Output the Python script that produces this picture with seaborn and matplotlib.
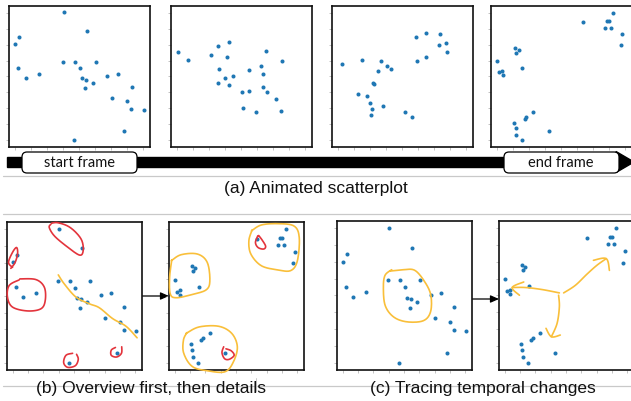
import numpy as np
import pandas as pd
import matplotlib
matplotlib.use("Agg")
import matplotlib.pyplot as plt
from matplotlib.patches import FancyBboxPatch, Rectangle, Polygon
import seaborn as sns

# ---------------- data ----------------
start_x = [3.04, 0.02, 0.29, 4.50, 0.23, 0.69, 1.54, 2.98, 3.75, 5.04, 4.04, 4.19,
           4.46, 4.38, 4.88, 5.75, 6.42, 7.29, 6.04, 6.98, 7.23, 8.04, 6.81, 3.67]
start_y = [8.03, 6.01, 6.45, 6.85, 4.52, 3.91, 4.18, 4.92, 4.92, 4.92, 4.50, 3.87,
           3.80, 3.26, 3.61, 4.03, 4.16, 3.34, 2.67, 2.44, 1.97, 1.89, 0.55, -0.02]

mid1_x = [0.10, 0.69, 2.13, 2.56, 3.27, 3.15, 2.65, 3.50, 3.00, 2.60, 3.25, 4.50,
          5.58, 5.23, 5.40, 6.56, 4.04, 4.50, 5.38, 5.60, 6.19, 6.48, 4.15, 4.94]
mid1_y = [5.53, 5.02, 5.32, 5.90, 6.16, 5.25, 4.47, 4.05, 3.87, 3.57, 3.47, 4.43,
          5.63, 4.68, 4.18, 4.96, 3.03, 3.07, 3.34, 3.00, 2.56, 1.85, 2.04, 1.79]

mid2_x = [0.27, 1.54, 1.29, 1.83, 1.98, 2.13, 2.06, 2.21, 2.23, 2.48, 2.71, 3.06,
          3.31, 2.83, 4.19, 4.60, 4.90, 5.50, 4.92, 5.52, 6.35, 6.33, 6.73, 6.81]
mid2_y = [4.81, 5.04, 2.92, 2.77, 2.31, 1.97, 1.58, 3.57, 3.51, 4.33, 5.00, 4.66,
          4.47, 2.12, 1.76, 1.43, 6.47, 6.74, 4.98, 5.25, 6.64, 5.99, 6.09, 5.53]

end_x = [7.27, 6.87, 6.97, 6.74, 7.14, 7.83, 7.72, 5.39, 1.11, 1.36, 1.22, 0.00,
         0.13, 0.34, 0.38, 1.60, 2.28, 1.83, 1.73, 1.07, 1.17, 1.19, 1.56, 3.26]
end_y = [8.00, 7.48, 7.46, 7.06, 7.06, 6.65, 5.95, 7.40, 5.79, 5.69, 5.50, 4.96,
         4.25, 4.33, 4.07, 4.56, 1.75, 1.45, 1.35, 1.09, 0.75, 0.32, 0.00, 0.56]

tick_values = [0, 1, 2, 3, 4, 5, 6, 7, 8]

caption_a = "(a) Animated scatterplot"
caption_b = "(b) Overview first, then details"
caption_c = "(c) Tracing temporal changes"
label_start = "start frame"
label_end = "end frame"

# ---------------- styling ----------------
sns.set_style("white")
plt.rcParams["font.family"] = ["Liberation Sans", "DejaVu Sans"]

W, H = 631, 401
DOT = "#1f77b4"
RED = "#e3343c"
YEL = "#f9bf3a"
GREY = "#c9c9c9"

fig = plt.figure(figsize=(W / 100, H / 100), dpi=100)

# overlay in pixel coordinates
ov = fig.add_axes([0, 0, 1, 1], zorder=0)
ov.set_xlim(0, W)
ov.set_ylim(H, 0)
ov.axis("off")
ov.patch.set_alpha(0)


def px_axes(left, top, width, height):
    return fig.add_axes([left / W, 1 - (top + height) / H, width / W, height / H], zorder=2)


def draw_panel(ax, xs, ys):
    df = pd.DataFrame({"x": xs, "y": ys})
    sns.scatterplot(data=df, x="x", y="y", ax=ax, color=DOT, s=8.5, linewidth=0,
                    legend=False, zorder=3)
    ax.set_xlim(-0.36, 8.43)
    ax.set_ylim(-0.44, 8.43)
    ax.set_xticks(tick_values)
    ax.set_yticks(tick_values)
    ax.set_xticklabels([])
    ax.set_yticklabels([])
    ax.set_xlabel("")
    ax.set_ylabel("")
    ax.tick_params(bottom=True, left=True, length=2, width=0.5, color="#aaaaaa",
                   direction="out")
    for sp in ax.spines.values():
        sp.set_visible(True)
        sp.set_color("#111111")
        sp.set_linewidth(1.2)
    ax.patch.set_facecolor("white")


def catmull(pts, n=14):
    P = np.asarray(pts, float)
    P = np.vstack([P[0], P, P[-1]])
    out = []
    for i in range(1, len(P) - 2):
        p0, p1, p2, p3 = P[i - 1], P[i], P[i + 1], P[i + 2]
        for t in np.linspace(0, 1, n, endpoint=False):
            t2, t3 = t * t, t * t * t
            out.append(0.5 * ((2 * p1) + (-p0 + p2) * t + (2 * p0 - 5 * p1 + 4 * p2 - p3) * t2
                              + (-p0 + 3 * p1 - 3 * p2 + p3) * t3))
    out.append(P[-2])
    return np.array(out)


def stroke(ax, pts, color, lw=1.2):
    c = catmull(pts)
    ax.plot(c[:, 0], c[:, 1], color=color, lw=lw, solid_capstyle="round",
            clip_on=False, zorder=4)


# ---------------- top row: animated scatterplot ----------------
top_frames = [(start_x, start_y, 9), (mid1_x, mid1_y, 171),
              (mid2_x, mid2_y, 332), (end_x, end_y, 491)]
for xs, ys, left in top_frames:
    ax = px_axes(left, 6, 141, 141)
    draw_panel(ax, xs, ys)

# timeline bar
ov.add_patch(Rectangle((7, 157), 612, 10, color="black", zorder=1))
ov.add_patch(Polygon([(616, 151.5), (634, 162), (616, 172.5)], closed=True,
                     color="black", zorder=1))
for (x0, x1, txt, tx) in [(22, 137, label_start, 79), (504, 619, label_end, 561)]:
    ov.add_patch(FancyBboxPatch((x0, 152), x1 - x0, 21,
                                boxstyle="round,pad=0,rounding_size=5",
                                facecolor="white", edgecolor="black", lw=0.9, zorder=2))
    ov.text(tx, 163, txt, ha="center", va="center", fontsize=10.5,
            family=["Lato", "DejaVu Sans"], color="#111111", zorder=3)

# separators
for yy in (176, 214, 386):
    ov.plot([3, W], [yy, yy], color=GREY, lw=0.9, zorder=0)
ov.plot([256, 256], [378, 391], color=GREY, lw=0.7, zorder=0)

ov.text(315.5, 193, caption_a, ha="center", va="baseline", fontsize=12.5, color="#111111")
ov.text(151.5, 393, caption_b, ha="center", va="baseline", fontsize=12.5, color="#111111",
        zorder=2)
ov.text(483, 393, caption_c, ha="center", va="baseline", fontsize=12.5, color="#111111",
        zorder=2)

# ---------------- bottom row (b) ----------------
b1 = px_axes(7, 222, 135, 148)
draw_panel(b1, start_x, start_y)
b2 = px_axes(169, 222, 135, 148)
draw_panel(b2, end_x, end_y)

# red loops (b1)
stroke(b1, [(2.50, 8.30), (2.39, 8.10), (2.72, 7.60), (3.48, 7.00), (4.35, 6.45),
            (4.60, 6.70), (4.52, 7.30), (4.13, 7.80), (3.59, 8.19), (2.93, 8.39), (2.55, 8.36)], RED)
stroke(b1, [(0.00, 5.71), (-0.26, 6.01), (0.00, 6.61), (0.26, 6.90), (0.33, 6.55),
            (0.17, 6.01), (-0.11, 5.65)], RED)
stroke(b1, [(0.48, 5.02), (1.52, 4.98), (2.07, 4.52), (2.13, 3.73), (1.85, 3.23),
            (0.98, 3.10), (0.00, 3.33), (-0.33, 3.93), (-0.22, 4.62), (0.43, 4.96)], RED)
stroke(b1, [(3.91, 0.56), (3.48, 0.44), (3.33, 0.00), (3.59, -0.28), (4.09, -0.18),
            (4.28, 0.20), (4.17, 0.50)], RED)
stroke(b1, [(6.70, 0.91), (6.43, 0.75), (6.43, 0.44), (6.78, 0.34), (7.09, 0.56),
            (7.11, 0.95)], RED)
# yellow trend stroke (b1)
stroke(b1, [(2.98, 5.26), (3.37, 4.72), (4.13, 3.93), (5.00, 3.53), (5.65, 3.29),
            (6.52, 2.64), (7.39, 2.18), (8.11, 1.49)], YEL)

# yellow cluster loops (b2)
stroke(b2, [(5.01, 7.90), (5.65, 8.25), (6.72, 8.33), (7.78, 8.19), (8.12, 7.50),
            (8.00, 6.11), (7.57, 5.52), (6.72, 5.56), (5.65, 5.81), (4.97, 6.51),
            (4.84, 7.30), (5.05, 7.95)], YEL)
stroke(b2, [(-0.21, 6.11), (0.43, 6.47), (1.49, 6.51), (2.13, 6.01), (2.30, 4.92),
            (2.07, 4.37), (1.17, 4.09), (0.11, 3.89), (-0.28, 4.13), (-0.32, 5.12),
            (-0.18, 6.15)], YEL)
stroke(b2, [(0.75, 1.75), (1.60, 2.14), (2.88, 2.18), (3.73, 1.75), (4.09, 0.95),
            (3.84, 0.06), (3.30, -0.54), (2.24, -0.50), (1.17, -0.24), (0.60, 0.56),
            (0.58, 1.35), (0.80, 1.80)], YEL)
# red details (b2)
stroke(b2, [(5.42, 7.60), (5.27, 7.20), (5.44, 6.90), (5.80, 6.81), (5.93, 6.98),
            (5.71, 7.34), (5.48, 7.62)], RED)
stroke(b2, [(3.20, 0.95), (3.09, 0.60), (3.26, 0.24), (3.56, 0.20), (3.88, 0.44),
            (3.69, 0.71), (3.35, 0.83)], RED)

ov.annotate("", xy=(169, 296), xytext=(142, 296),
            arrowprops=dict(arrowstyle="-|>,head_length=0.5,head_width=0.22",
                            color="black", lw=0.9, shrinkA=0, shrinkB=0), zorder=1)

# ---------------- bottom row (c) ----------------
c1 = px_axes(337, 221, 135, 149)
draw_panel(c1, start_x, start_y)
c2 = px_axes(499, 221, 135, 149)
draw_panel(c2, end_x, end_y)

stroke(c1, [(3.09, 5.45), (3.96, 5.53), (4.71, 5.49), (5.36, 4.80), (5.75, 4.01),
            (5.73, 3.02), (5.25, 2.49), (4.17, 2.43), (3.31, 2.73), (2.77, 3.42),
            (2.66, 4.51), (2.77, 5.20), (3.20, 5.53)], YEL)

# arrows (c2): shaft + hand-drawn head
stroke(c2, [(3.85, 4.15), (4.61, 4.60), (5.36, 5.26), (6.01, 5.79), (6.62, 6.19)], YEL)
stroke(c2, [(5.79, 6.09), (6.62, 6.19), (6.83, 5.49)], YEL)
stroke(c2, [(3.57, 4.15), (2.44, 4.35), (1.36, 4.47), (0.50, 4.47)], YEL)
stroke(c2, [(1.25, 4.80), (0.50, 4.47), (0.97, 4.01)], YEL)
stroke(c2, [(3.52, 4.01), (3.57, 3.32), (3.42, 2.33), (3.05, 1.54)], YEL)
stroke(c2, [(2.70, 2.04), (3.05, 1.54), (3.63, 1.64)], YEL)

ov.annotate("", xy=(499, 299), xytext=(472, 299),
            arrowprops=dict(arrowstyle="-|>,head_length=0.5,head_width=0.22",
                            color="black", lw=0.9, shrinkA=0, shrinkB=0), zorder=1)

fig.savefig("out.png", dpi=100)
